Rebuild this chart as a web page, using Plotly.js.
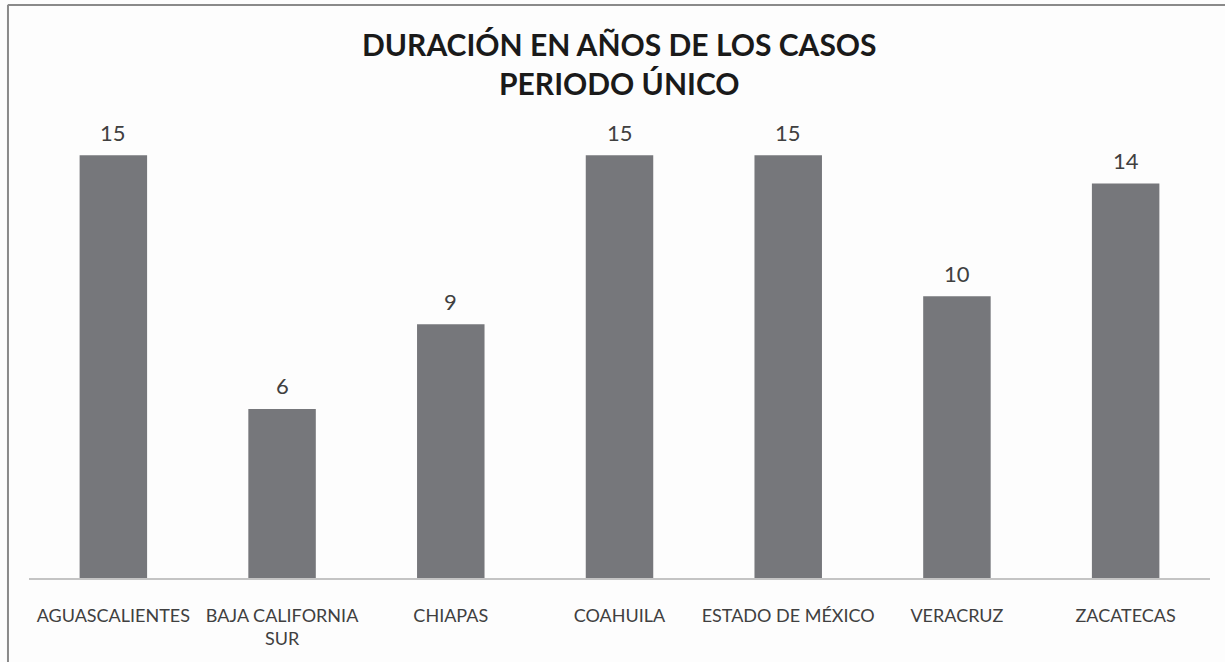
<!DOCTYPE html>
<html>
<head>
<meta charset="utf-8">
<script src="https://cdn.plot.ly/plotly-3.0.1.min.js"></script>
<style>
html,body{margin:0;padding:0;background:#fdfdfd;}
#chart{width:1225px;height:662px;}
</style>
</head>
<body>
<div id="chart"></div>
<script>
const categories = ["AGUASCALIENTES", "BAJA CALIFORNIA<br>SUR", "CHIAPAS", "COAHUILA", "ESTADO DE MÉXICO", "VERACRUZ", "ZACATECAS"];
const values = [15, 6, 9, 15, 15, 10, 14];
const titleText = "<b>DURACIÓN EN AÑOS DE LOS CASOS<br>PERIODO ÚNICO</b>";

const FONT = "Lato, 'Open Sans', sans-serif";

const trace = {
  type: "bar",
  x: categories,
  y: values,
  marker: {color: "#76777b"},
  hoverinfo: "x+y"
};

const labelAnnotations = categories.map((c, i) => ({
  x: c,
  y: values[i],
  xref: "x",
  yref: "y",
  text: String(values[i]),
  showarrow: false,
  xanchor: "center",
  yanchor: "middle",
  yshift: 23,
  font: {family: FONT, size: 22, color: "#404040"}
}));

labelAnnotations.push({
  xref: "paper", yref: "paper",
  x: 0.5, y: 1.14,
  xanchor: "center", yanchor: "middle",
  showarrow: false,
  text: titleText,
  font: {family: FONT, size: 30, color: "#1a1a1a"}
});

const layout = {
  width: 1225,
  height: 662,
  paper_bgcolor: "#fdfdfd",
  plot_bgcolor: "#fdfdfd",
  margin: {l: 29, r: 15, t: 127, b: 84},
  bargap: 0.6,
  showlegend: false,
  xaxis: {
    type: "category",
    showline: true,
    linecolor: "#c4c4c4",
    linewidth: 2,
    ticks: "",
    ticklabelstandoff: 20,
    tickfont: {family: FONT, size: 18, color: "#404040"},
    showgrid: false,
    zeroline: false,
    fixedrange: true
  },
  yaxis: {
    range: [0, 16],
    visible: false,
    showgrid: false,
    zeroline: false,
    fixedrange: true
  },
  annotations: labelAnnotations,
  shapes: [
    {type: "line", xref: "paper", yref: "paper", x0: -0.0178, x1: -0.0178, y0: -0.2, y1: 1.271, line: {color: "#8a8a8a", width: 2}},
    {type: "line", xref: "paper", yref: "paper", x0: -0.0178, x1: 1.02, y0: 1.2705, y1: 1.2705, line: {color: "#8a8a8a", width: 2}}
  ]
};

Plotly.newPlot("chart", [trace], layout, {displayModeBar: false, staticPlot: true});
</script>
</body>
</html>
